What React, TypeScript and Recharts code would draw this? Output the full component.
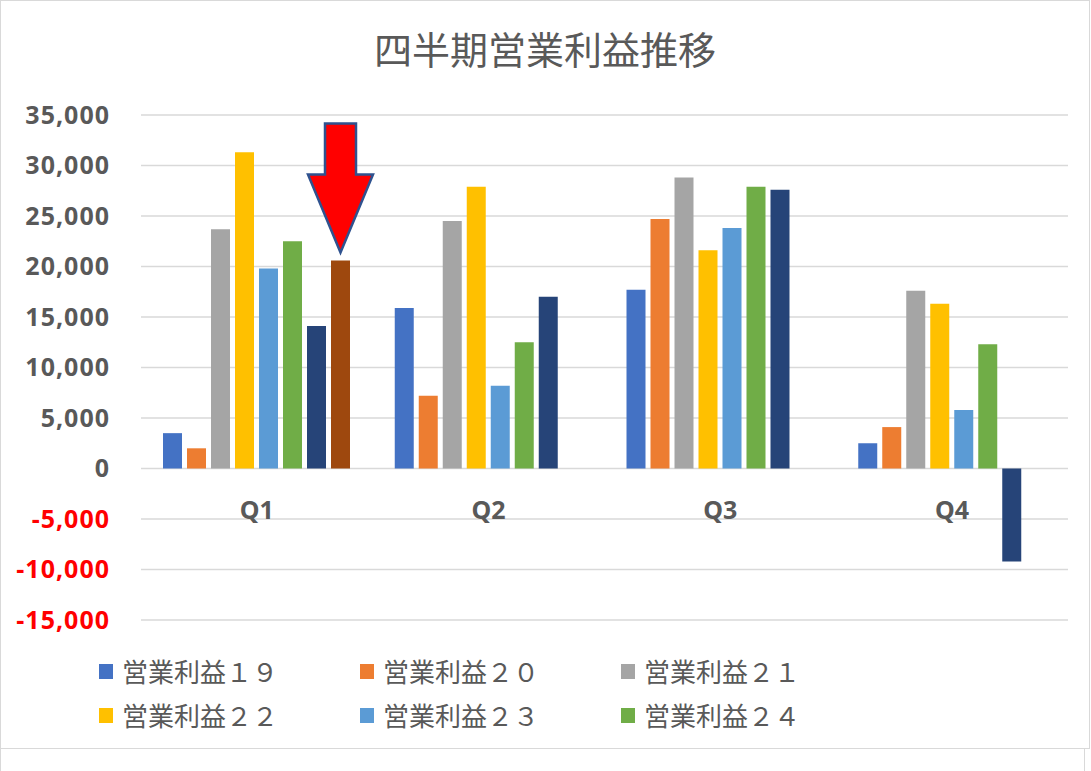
import React from 'react';
import { BarChart, Bar, XAxis, YAxis, CartesianGrid, Legend } from 'recharts';

const quarters = ['Q1', 'Q2', 'Q3', 'Q4'];
const profit19 = [3500, 15900, 17700, 2500];
const profit20 = [2000, 7200, 24700, 4100];
const profit21 = [23700, 24500, 28800, 17600];
const profit22 = [31300, 27900, 21600, 16300];
const profit23 = [19800, 8200, 23800, 5800];
const profit24 = [22500, 12500, 27900, 12300];
const profit25 = [14100, 17000, 27600, -9200];
const profit25Q1Alt = [20600, null, null, null];
const yTicks = [-15000, -10000, -5000, 0, 5000, 10000, 15000, 20000, 25000, 30000, 35000];

const series = [
  { key: 'p19', name: '営業利益１９', values: profit19, color: '#4472C4' },
  { key: 'p20', name: '営業利益２０', values: profit20, color: '#ED7D31' },
  { key: 'p21', name: '営業利益２１', values: profit21, color: '#A5A5A5' },
  { key: 'p22', name: '営業利益２２', values: profit22, color: '#FFC000' },
  { key: 'p23', name: '営業利益２３', values: profit23, color: '#5B9BD5' },
  { key: 'p24', name: '営業利益２４', values: profit24, color: '#70AD47' },
  { key: 'p25', name: '営業利益２５', values: profit25, color: '#264478', hidden: true },
  { key: 'p25b', name: '営業利益２５b', values: profit25Q1Alt, color: '#9E480E', hidden: true },
];

const data = quarters.map((q, i) => {
  const row: any = { quarter: q };
  series.forEach(s => { row[s.key] = s.values[i]; });
  return row;
});

const CHART_W = 1088;
const CHART_H = 747;
const MARGIN = { top: 114, right: 21, bottom: 98, left: 0 };
const X_AXIS_H = 30;
const Y_MIN = -15000;
const Y_MAX = 35000;
const PLOT_H = CHART_H - MARGIN.top - MARGIN.bottom - X_AXIS_H;
const ZERO_Y = MARGIN.top + PLOT_H * (Y_MAX / (Y_MAX - Y_MIN));

const TEXT_GRAY = '#595959';
const NUM_FONT = '"Noto Sans", "DejaVu Sans", sans-serif';
const JP_FONT = '"Noto Sans CJK JP", "Noto Sans", sans-serif';

const YTick = ({ x, y, payload }: any) => (
  <text x={x} y={y} dy="0.355em" textAnchor="end" fontSize={25} fontWeight="bold" fontFamily={NUM_FONT}
    letterSpacing={1} fill={payload.value < 0 ? '#FF0000' : TEXT_GRAY}>
    {payload.value.toLocaleString('en-US')}
  </text>
);

// category labels sit under the zero line, like Excel
const XTick = ({ x, payload }: any) => (
  <text x={x} y={ZERO_Y + 42} dy="0.355em" textAnchor="middle" fontSize={25} fontWeight="bold" fontFamily={NUM_FONT} fill={TEXT_GRAY}>
    {payload.value}
  </text>
);

const ArrowLabel = (props: any) => {
  const { x, y, width, value } = props;
  if (value == null) return null;
  const cx = x + width / 2;
  const tip = y - 8;
  const pts = [
    [cx - 15.5, tip - 129], [cx + 15.5, tip - 129], [cx + 15.5, tip - 78], [cx + 32.5, tip - 78],
    [cx, tip], [cx - 32.5, tip - 78], [cx - 15.5, tip - 78],
  ].map(p => p.join(',')).join(' ');
  return <polygon points={pts} fill="#FF0000" stroke="#2F528F" strokeWidth={2.5} />;
};

const LegendContent = () => (
  <div style={{ display: 'flex', flexWrap: 'wrap', width: 783, fontFamily: JP_FONT }}>
    {series.filter(s => !s.hidden).map(s => (
      <div key={s.key} style={{ width: 261, height: 44, display: 'flex', alignItems: 'center' }}>
        <span style={{ width: 14, height: 15, background: s.color, display: 'inline-block', marginRight: 9 }} />
        <span style={{ fontSize: 26, color: TEXT_GRAY, lineHeight: '30px' }}>{s.name}</span>
      </div>
    ))}
  </div>
);

export default function App() {
  return (
    <div style={{ position: 'absolute', left: 0, top: 0 }}>
      <div style={{ position: 'relative', width: CHART_W + 2, height: CHART_H + 2, border: '1px solid #D9D9D9', boxSizing: 'border-box', background: '#fff' }}>
        <div style={{ position: 'absolute', left: 0, top: 27, width: CHART_W, textAlign: 'center', fontFamily: JP_FONT, fontSize: 38, lineHeight: '40px', color: TEXT_GRAY }}>
          四半期営業利益推移
        </div>
        <BarChart width={CHART_W} height={CHART_H} data={data} margin={MARGIN} barSize={19} barGap={5}>
          <CartesianGrid vertical={false} stroke="#D9D9D9" strokeWidth={1.3} />
          <XAxis dataKey="quarter" height={X_AXIS_H} axisLine={false} tickLine={false} tick={<XTick />} />
          <YAxis width={140} domain={[Y_MIN, Y_MAX]} ticks={yTicks} interval={0} axisLine={false} tickLine={false}
            tickSize={0} tickMargin={31} tick={<YTick />} />
          <Legend layout="horizontal" verticalAlign="middle" content={<LegendContent />}
            wrapperStyle={{ left: 98, top: 648, width: 800, height: 90 }} />
          {series.map(s => (
            <Bar key={s.key} dataKey={s.key} name={s.name} fill={s.color} isAnimationActive={false}
              legendType={s.hidden ? 'none' : 'square'}
              label={s.key === 'p25b' ? (p: any) => <ArrowLabel {...p} /> : undefined} />
          ))}
        </BarChart>
      </div>
      <div style={{ width: 1085, height: 23, border: '1px solid #D9D9D9', borderTop: 'none', boxSizing: 'border-box' }} />
    </div>
  );
}
